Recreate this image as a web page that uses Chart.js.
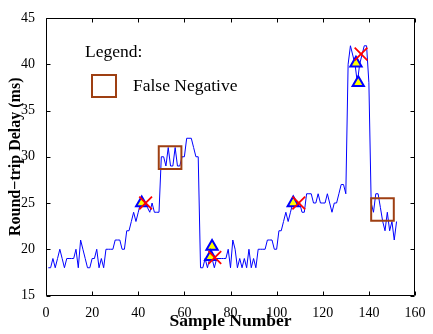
<!DOCTYPE html>
<html lang="en">
<head>
    <meta charset="UTF-8">
    <title>Round-trip Delay</title>
    <script src="https://cdn.jsdelivr.net/npm/chart.js"></script>
    <style>
        body {
            margin: 0;
            background: white;
        }
        .chart-box {
            position: relative;
            width: 433px;
            height: 334px;
        }
    </style>
</head>
<body>
    <div class="chart-box">
        <canvas id="rttChart"></canvas>
    </div>

    <script>
        // sample numbers 1..152 and the measured delay (ms)
        const samples = [];
        for (let i = 1; i <= 152; i++) samples.push(i);

        const delays = [
            18, 18, 19, 18, 19, 20, 19, 18, 19, 19,
            19, 19, 20, 18, 21, 20, 19, 18, 18, 19,
            19, 20, 18, 19, 18, 20, 20, 20, 20, 21,
            21, 21, 20, 20, 22, 22, 23, 24, 23, 24,
            25, 25, 25, 24.5, 24, 25, 24, 24, 24, 30,
            30, 29, 31, 29, 29, 31, 29, 29, 30, 30,
            32, 32, 32, 31, 30, 30, 18, 18, 19, 18,
            19, 19, 18, 19, 19, 19, 19, 19, 20, 18,
            21, 20, 18, 19, 18, 19, 18, 20, 18, 19,
            18, 20, 20, 20, 20, 21, 21, 21, 20, 20,
            22, 22, 23, 24, 23, 24, 25, 25, 25, 25,
            24, 24, 26, 26, 26, 25, 25, 26, 25, 25,
            25, 26, 25, 24, 25, 25, 26, 27, 27, 26,
            40, 42, 41, 40, 38, 40, 41, 42, 42, 38,
            25, 24, 26, 26, 24.5, 23, 22, 24, 22, 23,
            21, 23
        ];

        // detections (triangles), alarms (red x) and false negatives (squares)
        const triX = [41.5, 72.0, 71.4, 107.2, 134.4, 135.4];
        const triY = [25, 20.3, 19.2, 25, 40.1, 38];
        const crossX = [43.2, 73.2, 109.6, 136.6];
        const crossY = [25, 19.1, 25, 41.1];
        const fnX = [53.8, 145.9];
        const fnY = [29.9, 24.3];

        const xTicks = [0, 20, 40, 60, 80, 100, 120, 140, 160];
        const yTicks = [15, 20, 25, 30, 35, 40, 45];

        const serif = '"Liberation Serif", "Times New Roman", serif';
        const brown = '#9E3F12';

        function toPoints(xs, ys) {
            return xs.map((x, i) => ({ x: x, y: ys[i] }));
        }

        // MATLAB style box with inward ticks on all four sides + legend text
        const matlabFrame = {
            id: 'matlabFrame',
            afterDraw(chart) {
                const ctx = chart.ctx;
                const a = chart.chartArea;
                const xs = chart.scales.x;
                const ys = chart.scales.y;
                const L = Math.round(a.left) + 0.5;
                const R = Math.round(a.right) - 0.5;
                const T = Math.round(a.top) + 0.5;
                const B = Math.round(a.bottom) - 0.5;
                const len = 4;

                ctx.save();
                ctx.strokeStyle = '#000';
                ctx.lineWidth = 1;
                ctx.beginPath();
                ctx.rect(L, T, R - L, B - T);
                xTicks.forEach(v => {
                    const p = Math.round(xs.getPixelForValue(v)) + 0.5;
                    ctx.moveTo(p, B); ctx.lineTo(p, B - len);
                    ctx.moveTo(p, T); ctx.lineTo(p, T + len);
                });
                yTicks.forEach(v => {
                    const p = Math.round(ys.getPixelForValue(v)) + 0.5;
                    ctx.moveTo(L, p); ctx.lineTo(L + len, p);
                    ctx.moveTo(R, p); ctx.lineTo(R - len, p);
                });
                ctx.stroke();

                // legend
                ctx.fillStyle = '#000';
                ctx.font = '17.5px ' + serif;
                ctx.textBaseline = 'middle';
                ctx.textAlign = 'left';
                ctx.fillText('Legend:', a.left + 39, a.top + 34);
                ctx.fillText('False Negative', a.left + 87, a.top + 68);
                ctx.strokeStyle = brown;
                ctx.lineWidth = 2;
                ctx.strokeRect(a.left + 46, a.top + 57, 24, 22);
                ctx.restore();
            }
        };

        const ctx = document.getElementById('rttChart').getContext('2d');

        new Chart(ctx, {
            type: 'scatter',
            data: {
                datasets: [
                    {
                        label: 'alarm',
                        data: toPoints(crossX, crossY),
                        pointStyle: 'crossRot',
                        pointRadius: 9,
                        borderColor: '#FF0000',
                        borderWidth: 1.8
                    },
                    {
                        label: 'detected',
                        data: toPoints(triX, triY),
                        pointStyle: 'triangle',
                        pointRadius: 6.5,
                        backgroundColor: '#FFFF00',
                        borderColor: '#0000FF',
                        borderWidth: 2
                    },
                    {
                        label: 'False Negative',
                        data: toPoints(fnX, fnY),
                        pointStyle: 'rect',
                        pointRadius: 16,
                        backgroundColor: 'rgba(0,0,0,0)',
                        borderColor: brown,
                        borderWidth: 2
                    },
                    {
                        label: 'RTT',
                        data: toPoints(samples, delays),
                        showLine: true,
                        pointRadius: 0,
                        borderColor: '#0000FF',
                        borderWidth: 1,
                        tension: 0
                    }
                ]
            },
            options: {
                responsive: true,
                maintainAspectRatio: false,
                animation: false,
                events: [],
                layout: {
                    padding: { top: 9.5, right: 10, left: 0, bottom: 0 }
                },
                plugins: {
                    legend: { display: false },
                    tooltip: { enabled: false }
                },
                scales: {
                    x: {
                        type: 'linear',
                        min: 0,
                        max: 160,
                        afterFit: scale => { scale.height = 38.5; },
                        afterBuildTicks: scale => {
                            scale.ticks = xTicks.map(v => ({ value: v }));
                        },
                        grid: { display: false },
                        border: { display: false },
                        ticks: {
                            padding: 1,
                            color: '#000',
                            font: { family: serif, size: 14 }
                        },
                        title: {
                            display: true,
                            text: 'Sample Number',
                            color: '#000',
                            padding: { top: 0, bottom: 2 },
                            font: { family: serif, size: 17.5, weight: 'bold' }
                        }
                    },
                    y: {
                        type: 'linear',
                        min: 15,
                        max: 45,
                        afterFit: scale => { scale.width = 46; },
                        afterBuildTicks: scale => {
                            scale.ticks = yTicks.map(v => ({ value: v }));
                        },
                        grid: { display: false },
                        border: { display: false },
                        ticks: {
                            padding: 3,
                            color: '#000',
                            font: { family: serif, size: 14 }
                        },
                        title: {
                            display: true,
                            text: 'Round\u2212trip Delay (ms)',
                            color: '#000',
                            padding: { top: 6, bottom: 0 },
                            font: { family: serif, size: 16, weight: 'bold' }
                        }
                    }
                }
            },
            plugins: [matlabFrame]
        });
    </script>
</body>
</html>
